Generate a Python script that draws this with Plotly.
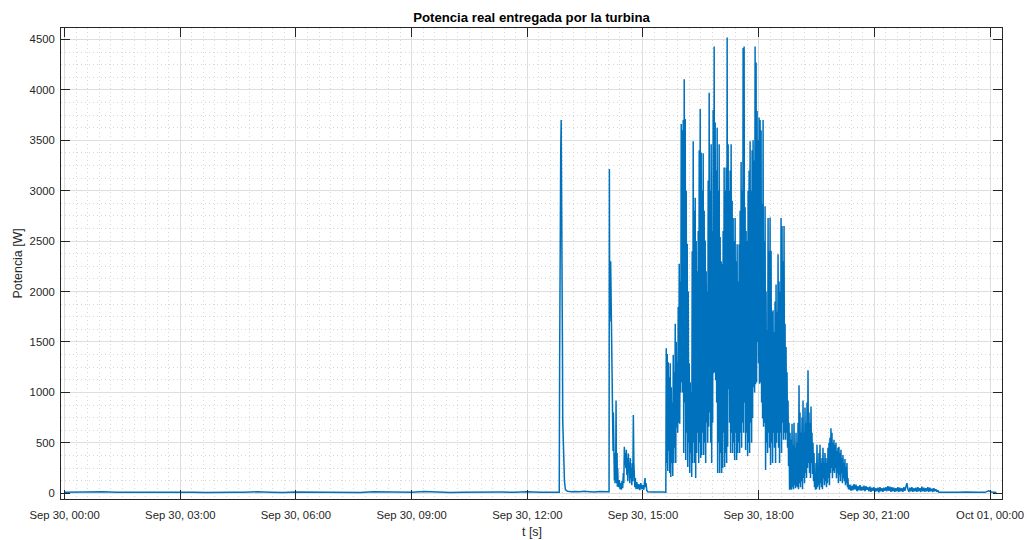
import pandas as pd
import plotly.graph_objects as go

DAY = pd.Timestamp("2023-09-30")

# --- morning baseline: one reading every 20 min from 00:00 [W]
morning_start_min = 0.0
morning_step_min = 20.0
morning_w = [9, 12, 8, 14, 10, 11, 7, 13, 9, 16, 10, 8, 12, 11, 9, 15, 10, 7, 12,
             10, 13, 9, 11, 8, 14, 10, 12, 9, 17, 11, 8, 10, 13, 9, 12, 10, 15, 11]

# --- first gusts (minutes after midnight, W)
gust_pts = [(759.2, 10), (765.0, 13), (769.7, 10), (770.3, 1320), (770.9, 3200), (771.6, 2400),
            (772.0, 3400), (772.7, 3700), (773.1, 2600), (773.6, 3100), (774.2, 2280), (774.7, 1400),
            (775.1, 725), (775.8, 460), (776.5, 330), (777.8, 120), (779.3, 35), (782.4, 20),
            (788.7, 15), (793.3, 18), (801.1, 14), (808.9, 20), (816.6, 16), (824.4, 12),
            (832.2, 18), (839.9, 14), (847.2, 15), (847.7, 3215), (848.2, 1700), (848.8, 2340),
            (849.2, 2000), (849.7, 2300), (850.3, 1900), (850.8, 2200), (851.3, 1450), (851.9, 900),
            (852.4, 800), (852.8, 1000), (853.4, 420), (853.9, 800), (854.4, 250), (855.0, 460),
            (855.5, 130), (855.9, 400), (856.5, 100), (857.0, 350), (857.5, 200), (858.1, 920),
            (858.6, 300), (859.0, 100), (859.7, 400), (860.1, 65), (860.6, 250), (861.2, 120),
            (862.1, 60), (863.2, 130), (864.3, 40), (865.3, 100), (866.3, 35), (867.4, 120),
            (868.4, 50), (869.4, 200), (870.2, 100), (871.0, 460), (871.8, 280), (872.5, 400),
            (873.3, 250), (874.1, 430), (874.9, 180), (875.6, 350), (876.4, 120), (877.2, 395),
            (878.0, 200), (878.8, 300), (879.5, 100), (880.3, 350), (881.1, 150), (881.9, 250),
            (882.6, 80), (883.4, 300), (884.2, 120), (885.0, 775), (885.8, 300), (886.5, 200),
            (887.3, 60), (888.1, 150), (889.2, 40), (890.4, 110), (892.0, 40), (893.5, 90),
            (895.1, 30), (896.6, 100), (898.2, 40), (899.8, 80), (901.3, 35), (902.4, 110),
            (903.2, 150), (903.9, 60), (904.8, 100), (905.9, 30), (907.2, 15), (913.0, 12),
            (919.2, 14), (925.4, 10), (931.6, 12), (935.5, 10)]

# --- windy afternoon, logged every 46.6 s [W]
windy_start_min = 936.2
windy_step_s = 46.6
windy_w = [
    1437, 300, 1380, 220, 1300, 420, 1150, 200, 1290, 160, 1050, 300, 900, 170, 1370, 300,
    1200, 450, 1680, 300, 1500, 650, 1300, 600, 1850, 700, 2275, 690, 2100, 1000, 3660, 1100,
    3600, 1000, 3700, 400, 4105, 900, 3710, 330, 3000, 600, 2475, 260, 2000, 500, 1290, 200,
    1100, 400, 1000, 160, 2400, 300, 3490, 500, 2800, 300, 2930, 150, 2500, 400, 2200, 600,
    2600, 300, 3400, 500, 3810, 350, 3375, 380, 3000, 600, 3370, 380, 2800, 500, 2505, 300,
    2200, 700, 2000, 500, 3100, 660, 3970, 800, 3000, 500, 3460, 300, 2600, 700, 3800, 1190,
    4430, 1200, 3675, 1120, 3200, 900, 3625, 200, 3000, 500, 3460, 200, 2540, 400, 2300, 200,
    2275, 250, 2600, 600, 3230, 260, 3000, 400, 3230, 300, 4520, 460, 3460, 1030, 3000, 700,
    3200, 400, 3460, 600, 2900, 400, 2730, 500, 2500, 330, 2730, 600, 2300, 330, 2470, 400,
    2100, 500, 2470, 400, 2800, 600, 3285, 450, 3000, 700, 4415, 600, 4430, 900, 2835, 430,
    2600, 600, 2500, 370, 3000, 500, 3200, 400, 3490, 700, 3000, 500, 3400, 745, 3500, 1050,
    3300, 1000, 4430, 1080, 4270, 1100, 3790, 1500, 3500, 1290, 3725, 1085, 3700, 1100, 3600, 900,
    2870, 740, 3700, 660, 2500, 700, 2845, 230, 2000, 500, 1615, 400, 2730, 600, 2400, 450,
    2735, 280, 2405, 500, 1800, 300, 1815, 600, 1600, 450, 1900, 300, 2070, 500, 1800, 600,
    2370, 450, 2100, 300, 2000, 600, 2730, 400, 2650, 700, 2300, 530, 2650, 600, 1680, 530,
    1450, 600, 1200, 450, 920, 270, 700, 35,
    600, 40, 530, 35, 690, 60, 480, 40, 700, 80, 450, 50, 600, 70, 500, 60, 700, 40,
    1070, 100, 800, 60, 600, 120, 750, 40, 920, 150, 600, 100, 850, 200, 700, 150, 900, 250,
    1220, 300, 800, 200, 700, 150, 860, 300, 600, 190, 500, 120, 400, 60, 190, 35, 300, 40,
    480, 60, 250, 80, 400, 35, 480, 100, 300, 60, 350, 40, 450, 150, 300, 80, 400, 120,
    350, 60, 300, 100, 450, 150, 500, 80, 550, 200, 645, 250, 600, 150, 500, 220, 530, 200,
    480, 250, 500, 150, 420, 200, 450, 100, 460, 180, 400, 120, 430, 200, 350, 100, 380, 150,
    300, 120, 340, 80, 260, 100, 300, 60, 150, 40, 80, 35]

# --- evening breeze, logged every 93.2 s [W]
evening_start_min = 1222.1
evening_step_s = 93.2
evening_w = [85, 25, 75, 30, 90, 35, 85, 20, 70, 30, 80, 25, 65, 30, 75, 20, 70, 35, 60, 20,
             65, 15, 55, 25, 60, 15, 50, 20, 55, 10, 60, 20, 50, 15, 55, 25, 60, 20, 70, 25,
             65, 15, 60, 20, 55, 15, 50, 20, 60, 15, 55, 20, 50, 15, 60, 25, 70, 100, 40, 15,
             55, 20, 60, 15, 50, 20, 55, 15, 60, 20, 50, 15, 65, 20, 55, 15, 50, 20, 60, 15,
             55, 20, 45, 15, 50, 20, 40, 15, 30, 10]

# --- night (minutes after midnight of Sep 30, W)
night_pts = [(1362, 10), (1372, 8), (1382, 11), (1392, 9), (1402, 12), (1412, 8),
             (1422, 10), (1432, 9), (1438, 25), (1442, 12), (1450, 8)]

# ---------------------------------------------------------------------------
mins, watts = [], []
for i, w in enumerate(morning_w):
    mins.append(morning_start_min + i * morning_step_min); watts.append(w)
for m, w in gust_pts:
    mins.append(m); watts.append(w)
for i, w in enumerate(windy_w):
    mins.append(windy_start_min + i * windy_step_s / 60.0); watts.append(w)
for i, w in enumerate(evening_w):
    mins.append(evening_start_min + i * evening_step_s / 60.0); watts.append(w)
for m, w in night_pts:
    mins.append(m); watts.append(w)

times = DAY + pd.to_timedelta(mins, unit="min")

fig = go.Figure(go.Scatter(x=times, y=watts, mode="lines",
                           line=dict(color="#0072BD", width=1.5), hoverinfo="skip"))

axis_common = dict(
    ticks="inside", ticklen=9, tickwidth=1, tickcolor="#262626",
    showline=True, linecolor="#262626", linewidth=1, mirror="ticks",
    showgrid=True, gridcolor="#dedede", gridwidth=1, zeroline=False,
    tickfont=dict(size=11.3, color="#262626"), automargin=False,
)

fig.update_xaxes(
    type="date",
    range=["2023-09-29 23:54:24", "2023-10-01 00:18:38"],
    tick0="2023-09-30 00:00:00", dtick=3 * 3600 * 1000,
    tickformat="%b %d, %H:%M", ticklabelstandoff=5,
    minor=dict(tick0="2023-09-30 00:00:00", dtick=18 * 60 * 1000, showgrid=True,
               gridcolor="#d8d8d8", griddash="1px,3px", gridwidth=1),
    **axis_common,
)
fig.update_yaxes(
    range=[-57, 4613], tick0=0, dtick=500, ticklabelstandoff=3,
    minor=dict(tick0=0, dtick=125, showgrid=True,
               gridcolor="#d8d8d8", griddash="1px,3px", gridwidth=1),
    **axis_common,
)

fig.update_layout(
    width=1028, height=540,
    margin=dict(l=61, r=26, t=28, b=41),
    paper_bgcolor="white", plot_bgcolor="white",
    font=dict(family="Liberation Sans, Arial, sans-serif", size=11.3, color="#262626"),
    showlegend=False,
    title=dict(text="<b>Potencia real entregada por la turbina</b>",
               x=0.5, xref="paper", xanchor="center",
               y=1 - 17 / 540, yref="container", yanchor="middle",
               font=dict(size=13.2, color="#000000")),
    annotations=[
        dict(text="t [s]", xref="paper", yref="paper", x=0.5, y=-0.0701,
             xanchor="center", yanchor="middle", showarrow=False,
             font=dict(size=12.4, color="#262626")),
        dict(text="Potencia [W]", xref="paper", yref="paper", x=-0.0457, y=0.5,
             xanchor="center", yanchor="middle", showarrow=False, textangle=-90,
             font=dict(size=12.4, color="#262626")),
    ],
)

fig.write_html("out.html")
